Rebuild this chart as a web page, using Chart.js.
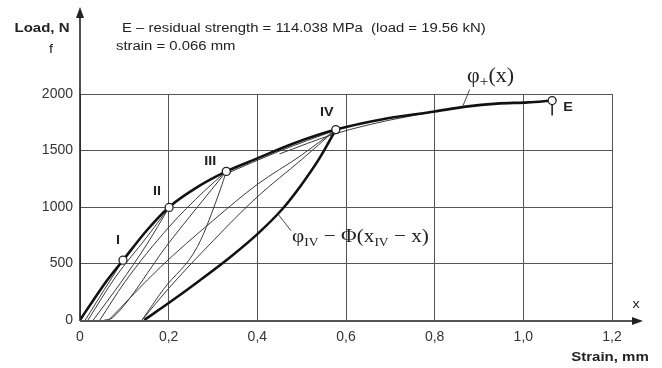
<!DOCTYPE html>
<html>
<head>
<meta charset="utf-8">
<script src="https://cdn.jsdelivr.net/npm/chart.js@4.4.0/dist/chart.umd.min.js"></script>
<style>
  html, body { margin: 0; padding: 0; background: #fff; }
  #wrap { width: 662px; height: 368px; }
</style>
</head>
<body>
<div id="wrap"><canvas id="chart" width="662" height="368"></canvas></div>
<script>
// --- DATA ---

const xTicks = [0, 0.2, 0.4, 0.6, 0.8, 1.0, 1.2];
const xTickLabels = ['0', '0,2', '0,4', '0,6', '0,8', '1,0', '1,2'];
const yTicks = [0, 500, 1000, 1500, 2000];
const yTickLabels = ['0', '500', '1000', '1500', '2000'];

// envelope curve phi+(x)
const envStrain = [0, 0.03, 0.06, 0.097, 0.15, 0.2, 0.26, 0.33, 0.4, 0.48, 0.577, 0.68, 0.8, 0.87, 0.94, 1.01, 1.065];
const envLoad   = [0, 175, 345, 529, 790, 996, 1165, 1315, 1430, 1560, 1685, 1775, 1845, 1888, 1915, 1926, 1942];

// marked states on the envelope
const markNames  = ['I', 'II', 'III', 'IV', 'E'];
const markStrain = [0.097, 0.201, 0.33, 0.577, 1.065];
const markLoad   = [529, 996, 1315, 1685, 1942];

// unloading from IV: phi_IV - Phi(x_IV - x)
const unloadIVStrain = [0.145, 0.2, 0.27, 0.34, 0.4, 0.456, 0.5, 0.54, 0.577];
const unloadIVLoad   = [0, 150, 350, 560, 760, 980, 1200, 1430, 1685];

// thin unloading / reloading branches
const unloadIStrain = [0.012, 0.055, 0.097];
const unloadILoad   = [0, 270, 529];
const reloadIIStrain = [0.018, 0.08, 0.15, 0.201];
const reloadIILoad   = [0, 380, 730, 996];
const unloadIIStrain = [0.03, 0.09, 0.15, 0.201];
const unloadIILoad   = [0, 320, 665, 996];
const reloadIIIStrain = [0.045, 0.1, 0.2, 0.28, 0.33];
const reloadIIILoad   = [0, 330, 820, 1140, 1315];
const unloadIIIStrain = [0.055, 0.065, 0.075, 0.2, 0.33];
const unloadIIILoad   = [0, 5, 25, 680, 1315];
const reloadAStrain = [0.065, 0.181, 0.3, 0.4, 0.5, 0.577];
const reloadALoad   = [0, 466, 880, 1200, 1460, 1685];
const reloadBStrain = [0.14, 0.2, 0.3, 0.4, 0.5, 0.577];
const reloadBLoad   = [0, 280, 700, 1090, 1420, 1685];
const reloadCStrain = [0.14, 0.188, 0.265, 0.317, 0.33];
const reloadCLoad   = [0, 270, 650, 1160, 1315];
const nearEnvAStrain = [0.33, 0.45, 0.577];
const nearEnvALoad   = [1295, 1495, 1680];
const nearEnvBStrain = [0.45, 0.577, 0.7, 0.8];
const nearEnvBLoad   = [1470, 1650, 1770, 1843];

// --- CHART ---

function pts(xs, ys) {
    return xs.map((x, i) => ({ x: x, y: ys[i] }));
}

function curve(xs, ys, width, color) {
    return {
        data: pts(xs, ys),
        showLine: true,
        borderColor: color,
        borderWidth: width,
        pointRadius: 0,
        cubicInterpolationMode: 'monotone',
        fill: false
    };
}

const thin = '#3a3a3a';
const thick = '#111';
const sans = '"Liberation Sans", Arial, sans-serif';
const serif = '"Liberation Serif", "DejaVu Serif", serif';

// draw text stretched horizontally like the scanned figure
function sText(ctx, text, x, y, font, align, sx) {
    ctx.save();
    ctx.font = font;
    ctx.textBaseline = 'middle';
    const w = ctx.measureText(text).width * sx;
    const left = align === 'center' ? x - w / 2 : (align === 'right' ? x - w : x);
    ctx.translate(left, y);
    ctx.scale(sx, 1);
    ctx.fillText(text, 0, 0);
    ctx.restore();
}

// math label made of pieces [text, size, dy]
function mathText(ctx, pieces, x, y, sx) {
    let cx = x;
    pieces.forEach(p => {
        ctx.save();
        ctx.font = p[1] + 'px ' + serif;
        ctx.textBaseline = 'alphabetic';
        const w = ctx.measureText(p[0]).width;
        ctx.translate(cx, y + p[2]);
        ctx.scale(sx, 1);
        ctx.fillText(p[0], 0, 0);
        ctx.restore();
        cx += w * sx;
    });
}

const decor = {
    id: 'decor',
    afterDraw(chart) {
        const ctx = chart.ctx;
        const xs = chart.scales.x, ys = chart.scales.y;
        const x0 = xs.getPixelForValue(0), y0 = ys.getPixelForValue(0);

        ctx.save();
        ctx.fillStyle = '#222';
        ctx.strokeStyle = '#222';

        // y axis with arrow
        ctx.lineWidth = 1.6;
        ctx.beginPath();
        ctx.moveTo(x0, y0 + 1);
        ctx.lineTo(x0, 16);
        ctx.stroke();
        ctx.beginPath();
        ctx.moveTo(x0, 7);
        ctx.lineTo(x0 - 4, 18);
        ctx.lineTo(x0 + 4, 18);
        ctx.closePath();
        ctx.fill();

        // x axis with arrow
        ctx.strokeStyle = '#555';
        ctx.lineWidth = 2;
        ctx.beginPath();
        ctx.moveTo(x0, y0 + 1);
        ctx.lineTo(634, y0 + 1);
        ctx.stroke();
        ctx.beginPath();
        ctx.moveTo(643, y0 + 1);
        ctx.lineTo(632, y0 - 3);
        ctx.lineTo(632, y0 + 5);
        ctx.closePath();
        ctx.fill();

        // axis titles
        ctx.fillStyle = '#222';
        sText(ctx, 'Load, N', 42, 29, 'bold 12px ' + sans, 'center', 1.25);
        sText(ctx, 'f', 51, 50, '12px ' + sans, 'center', 1.2);
        sText(ctx, 'x', 636, 305, '12px ' + sans, 'center', 1.2);
        sText(ctx, 'Strain, mm', 610, 358, 'bold 12px ' + sans, 'center', 1.25);

        // header note
        sText(ctx, 'E \u2013 residual strength = 114.038 MPa  (load = 19.56 kN)', 122, 29, '12px ' + sans, 'left', 1.24);
        sText(ctx, 'strain = 0.066 mm', 116, 47, '12px ' + sans, 'left', 1.24);

        // roman labels next to the marks
        const offs = [[-5, -20], [-12, -16], [-16, -10], [-9, -17], [16, 7]];
        markNames.forEach((n, i) => {
            const px = xs.getPixelForValue(markStrain[i]) + offs[i][0];
            const py = ys.getPixelForValue(markLoad[i]) + offs[i][1];
            sText(ctx, n, px, py, 'bold 12px ' + sans, 'center', 1.2);
        });

        // small tick below E
        const ex = xs.getPixelForValue(markStrain[4]), ey = ys.getPixelForValue(markLoad[4]);
        ctx.lineWidth = 1.6;
        ctx.strokeStyle = '#222';
        ctx.beginPath();
        ctx.moveTo(ex, ey + 4);
        ctx.lineTo(ex, ey + 15);
        ctx.stroke();

        // phi+ label and leader
        ctx.lineWidth = 0.9;
        ctx.strokeStyle = '#333';
        ctx.beginPath();
        ctx.moveTo(xs.getPixelForValue(0.864), ys.getPixelForValue(1888) - 1);
        ctx.lineTo(xs.getPixelForValue(0.879), ys.getPixelForValue(2040));
        ctx.stroke();
        mathText(ctx, [['\u03C6', 20, 0], ['+', 14, 4], ['(x)', 20, 0]], 467, 82, 1.1);

        // phi_IV label and leader
        ctx.beginPath();
        ctx.moveTo(xs.getPixelForValue(0.447), ys.getPixelForValue(935));
        ctx.lineTo(xs.getPixelForValue(0.476), ys.getPixelForValue(790));
        ctx.stroke();
        mathText(ctx, [
            ['\u03C6', 19, 0], ['IV', 12, 4], [' \u2212 \u03A6(x', 19, 0], ['IV', 12, 4], [' \u2212 x)', 19, 0]
        ], 292, 242, 1.12);

        ctx.restore();
    }
};

const ctx = document.getElementById('chart').getContext('2d');

new Chart(ctx, {
    type: 'scatter',
    data: {
        datasets: [
            {
                data: pts(markStrain, markLoad),
                pointRadius: 4,
                pointBackgroundColor: '#fff',
                pointBorderColor: '#222',
                pointBorderWidth: 1.3,
                showLine: false
            },
            curve(envStrain, envLoad, 2.6, thick),
            curve(unloadIVStrain, unloadIVLoad, 2.6, thick),
            curve(unloadIStrain, unloadILoad, 1, thin),
            curve(reloadIIStrain, reloadIILoad, 1, thin),
            curve(unloadIIStrain, unloadIILoad, 1, thin),
            curve(reloadIIIStrain, reloadIIILoad, 1, thin),
            curve(unloadIIIStrain, unloadIIILoad, 1, thin),
            curve(reloadAStrain, reloadALoad, 1, thin),
            curve(reloadBStrain, reloadBLoad, 1, thin),
            curve(reloadCStrain, reloadCLoad, 1, thin),
            curve(nearEnvAStrain, nearEnvALoad, 1, thin),
            curve(nearEnvBStrain, nearEnvBLoad, 1, thin)
        ]
    },
    options: {
        responsive: false,
        animation: false,
        events: [],
        layout: { padding: { top: 94, right: 50, left: 0, bottom: 0 } },
        plugins: {
            legend: { display: false },
            tooltip: { enabled: false }
        },
        scales: {
            x: {
                type: 'linear',
                min: 0,
                max: 1.2,
                afterBuildTicks: s => { s.ticks = xTicks.map(v => ({ value: v })); },
                afterFit: s => { s.height = 48; },
                ticks: {
                    callback: (v) => xTickLabels[xTicks.indexOf(v)] ?? '',
                    color: '#333',
                    padding: 9,
                    maxRotation: 0,
                    font: { family: sans, size: 14 }
                },
                grid: { color: '#555', lineWidth: 1, drawTicks: false },
                border: { display: false }
            },
            y: {
                type: 'linear',
                min: 0,
                max: 2000,
                afterBuildTicks: s => { s.ticks = yTicks.map(v => ({ value: v })); },
                afterFit: s => { s.width = 80; },
                ticks: {
                    callback: (v) => yTickLabels[yTicks.indexOf(v)] ?? '',
                    color: '#333',
                    padding: 7,
                    font: { family: sans, size: 14 }
                },
                grid: { color: '#555', lineWidth: 1, drawTicks: false },
                border: { display: false }
            }
        }
    },
    plugins: [decor]
});
</script>
</body>
</html>
